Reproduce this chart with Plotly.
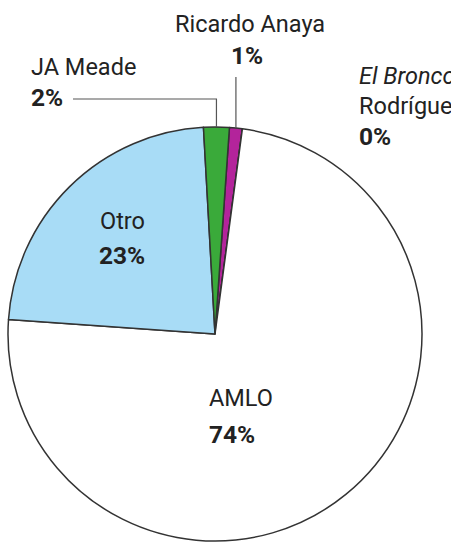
import math
import plotly.graph_objects as go

# ---- data ----
labels = ["Ricardo Anaya", "El Bronco Rodríguez", "AMLO", "Otro", "JA Meade"]
values = [1, 0, 74, 23, 2]
colors = ["#b3249b", "#ffffff", "#ffffff", "#a8dcf6", "#3aaa3a"]

W, H = 451, 549
CX, CY, R = 215, 334, 207   # pie centre / radius in px
ROT = 4

def px(x):
    return x / W

def py(y):
    return 1 - y / H

fig = go.Figure(go.Pie(
    labels=labels, values=values, sort=False, direction="clockwise",
    rotation=ROT, textinfo="none", hoverinfo="skip", showlegend=False,
    marker=dict(colors=colors, line=dict(color="#333333", width=1.5)),
    domain=dict(x=[px(CX - R), px(CX + R)], y=[py(CY + R), py(CY - R)]),
))

# slice mid-angles for leader lines
total = sum(values)
cum = 0
mids = {}
for lab, v in zip(labels, values):
    a0 = ROT + 360 * cum / total
    cum += v
    a1 = ROT + 360 * cum / total
    mids[lab] = (a0 + a1) / 2

def edge(angle_deg):
    a = math.radians(angle_deg)
    return CX + R * math.sin(a), CY - R * math.cos(a)

FONT = "Roboto"
TC = "#222222"
FS = 23.5
FSB = 24.5

ann = []
def add(text, x, y, xanchor="left", italic=False, size=FS):
    ann.append(dict(text=text, x=px(x), y=py(y), xref="paper", yref="paper",
                    xanchor=xanchor, yanchor="middle", showarrow=False,
                    font=dict(family=FONT, size=size, color=TC,
                              style="italic" if italic else "normal")))

add("Ricardo Anaya", 250, 24, "center")
add("<b>1%</b>", 247, 55, "center", size=FSB)
add("JA Meade", 29, 67)
add("<b>2%</b>", 29, 97, size=FSB)
add("El Bronco", 357, 76, italic=True)
add("Rodríguez", 357, 106)
add("<b>0%</b>", 357, 136, size=FSB)
add("Otro", 122, 221, "center")
add("<b>23%</b>", 122, 255, "center", size=FSB)
add("AMLO", 207, 398)
add("<b>74%</b>", 207, 434, size=FSB)

shapes = []
ex, ey = edge(mids["Ricardo Anaya"])
shapes.append(dict(type="line", xref="paper", yref="paper",
                   x0=px(ex), y0=py(77), x1=px(ex), y1=py(ey),
                   line=dict(color="#555555", width=1.2)))
mx, my = edge(mids["JA Meade"])
shapes.append(dict(type="path", xref="paper", yref="paper",
                   path=f"M {px(73)} {py(99)} L {px(mx)} {py(99)} L {px(mx)} {py(my)}",
                   line=dict(color="#555555", width=1.2)))

fig.update_layout(width=W, height=H, margin=dict(l=0, r=0, t=0, b=0),
                  paper_bgcolor="white", plot_bgcolor="white",
                  annotations=ann, shapes=shapes)
fig.write_html("out.html", config={"displayModeBar": False},
               post_script="document.body.style.margin='0';document.body.style.overflow='hidden';")
